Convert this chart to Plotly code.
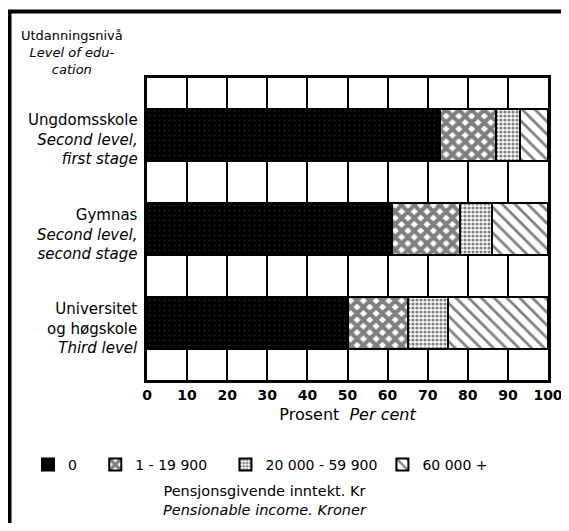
import plotly.graph_objects as go

# Data (per cent of each education level)
levels = ["Ungdomsskole", "Gymnas", "Universitet"]
level_labels = [
    "Ungdomsskole<br><i>Second level,</i><br><i>first stage</i>",
    "Gymnas<br><i>Second level,</i><br><i>second stage</i>",
    "Universitet<br>og høgskole<br><i>Third level</i>",
]
income_groups = ["0", "1 - 19 900", "20 000 - 59 900", "60 000 +"]
share_0 = [73, 61, 50]
share_1_19900 = [14, 17, 15]
share_20000_59900 = [6, 8, 10]
share_60000 = [7, 14, 25]
x_ticks = [0, 10, 20, 30, 40, 50, 60, 70, 80, 90, 100]

# the page body has an 8px margin, so the figure is drawn 8px in from the window;
# keep the page no taller than the window so no scrollbar appears
OFF = 8
W, H = 569 - OFF, 531 - 2 * OFF
L, T = 147 - OFF, 78 - OFF
R = W - (548 - OFF)
B = H - (380 - OFF)
PW, PH = W - L - R, H - T - B
FONT = "DejaVu Sans"


def px(x):
    # window pixel -> paper x
    return (x - OFF - L) / PW


def py(y):
    # window pixel -> paper y
    return (H - B - (y - OFF)) / PH


patterns = [
    dict(shape=".", bgcolor="#000000", fgcolor="#444444", size=5, solidity=0.12),
    dict(shape="x", bgcolor="#ffffff", fgcolor="#000000", size=9, solidity=0.7),
    dict(shape=".", bgcolor="#ffffff", fgcolor="#000000", size=4, solidity=0.5),
    dict(shape="\\", bgcolor="#ffffff", fgcolor="#000000", size=9, solidity=0.3),
]
series = [share_0, share_1_19900, share_20000_59900, share_60000]
pad = "\u00a0" * 3
legend_names = [income_groups[0] + pad, income_groups[1] + pad,
                income_groups[2], income_groups[3]]

fig = go.Figure()
for name, vals, pat in zip(legend_names, series, patterns):
    fig.add_trace(go.Bar(
        y=levels, x=vals, name=name, orientation="h", width=0.553,
        marker=dict(color=pat["bgcolor"], pattern=pat,
                    line=dict(color="black", width=2)),
        hoverinfo="x+y",
    ))

# category labels
annotations = []
for lvl, txt in zip(levels, level_labels):
    annotations.append(dict(
        x=0, xref="paper", y=lvl, yref="y", text=txt, showarrow=False,
        xanchor="right", yanchor="middle", align="right", xshift=-7, yshift=-5,
        font=dict(family=FONT, size=15, color="black"),
    ))

# header of the category axis
annotations.append(dict(
    x=px(72), xref="paper", y=py(53), yref="paper",
    text="Utdanningsnivå<br><i>Level of edu-</i><br><i>cation</i>",
    showarrow=False, xanchor="center", yanchor="middle", align="center",
    font=dict(family=FONT, size=13, color="black"),
))

# legend caption
annotations.append(dict(
    x=px(265), xref="paper", y=py(500), yref="paper",
    text="Pensjonsgivende inntekt. Kr<br><i>Pensionable income. Kroner</i>",
    showarrow=False, xanchor="center", yanchor="middle", align="center",
    font=dict(family=FONT, size=14.5, color="black"),
))

shapes = [
    dict(type="line", xref="paper", yref="paper", x0=px(9.5), x1=px(9.5),
         y0=py(10), y1=py(540), line=dict(color="black", width=4)),
    dict(type="line", xref="paper", yref="paper", x0=px(7.5), x1=px(575),
         y0=py(11.5), y1=py(11.5), line=dict(color="black", width=4)),
]

fig.update_layout(
    width=W, height=H,
    margin=dict(l=L, r=R, t=T, b=B, autoexpand=False),
    barmode="stack",
    paper_bgcolor="white", plot_bgcolor="white",
    font=dict(family=FONT, size=16, color="black"),
    showlegend=True,
    legend=dict(
        orientation="h", x=px(28), xanchor="left", y=py(449), yanchor="top",
        font=dict(family=FONT, size=14, color="black"),
        traceorder="normal", bgcolor="rgba(0,0,0,0)",
    ),
    annotations=annotations,
    shapes=shapes,
)
fig.update_xaxes(
    range=[0, 100], tickvals=x_ticks, ticktext=[str(v) for v in x_ticks],
    showgrid=True, gridcolor="black", gridwidth=2,
    showline=True, linecolor="black", linewidth=3, mirror=True,
    zeroline=False, ticks="", automargin=False,
    tickfont=dict(family=FONT, size=14, color="black", weight="bold"),
    title=dict(text="Prosent  <i>Per cent</i>", standoff=8,
               font=dict(family=FONT, size=16, color="black")),
)
fig.update_yaxes(
    categoryorder="array", categoryarray=levels,
    range=[2.606, -0.606], showticklabels=False, showgrid=False,
    showline=True, linecolor="black", linewidth=3, mirror=True,
    zeroline=False, ticks="", automargin=False,
)

fig.write_html("out.html")
